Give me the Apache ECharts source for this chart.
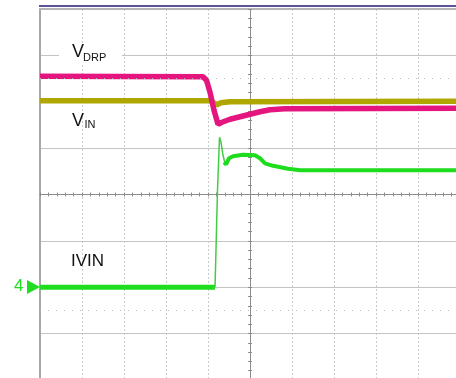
<!DOCTYPE html>
<html>
<head>
<meta charset="utf-8">
<script src="https://cdn.jsdelivr.net/npm/echarts@6/dist/echarts.min.js"></script>
<style>
  html, body { margin: 0; padding: 0; background: #ffffff; overflow: hidden; }
  #chart { width: 456px; height: 378px; }
</style>
</head>
<body>
<div id="chart"></div>
<script>
// Scope capture, values in screen divisions (x: -5..5, y: -4..4)
const vdrpTime  = [-5, -1.12, -1.036, -0.952, -0.857, -0.762, -0.667, -0.476, -0.238, 0, 0.238, 0.476, 0.833, 5];
const vdrpLevel = [2.55, 2.54, 2.464, 2.205, 1.817, 1.515, 1.558, 1.622, 1.676, 1.73, 1.784, 1.827, 1.849, 1.86];

const vinTime  = [-5, -0.976, -0.881, -0.786, -0.69, -0.476, 5];
const vinLevel = [2.022, 2.022, 1.989, 1.935, 1.978, 2.0, 2.011];

// IVIN: flat section, fast edge, settled section
const ivinFlatTime  = [-5, -0.833];
const ivinFlatLevel = [-2.0, -2.0];
const ivinEdgeTime  = [-0.833, -0.81, -0.774, -0.726, -0.69, -0.643, -0.595];
const ivinEdgeLevel = [-2.0, -1.204, 0.091, 1.234, 1.126, 0.846, 0.673];
const ivinTailTime  = [-0.619, -0.571, -0.5, -0.405, -0.167, 0.119, 0.238, 0.357, 0.548, 0.905, 1.19, 5];
const ivinTailLevel = [0.695, 0.652, 0.781, 0.824, 0.857, 0.846, 0.781, 0.673, 0.619, 0.554, 0.522, 0.522];

// Dotted cursor levels
const cursorLevels = [2.5, -2.5];

const pairs = (xs, ys) => xs.map((x, i) => [x, ys[i]]);

const GRID_GRAY = '#c4c4c4';
const TICK_GRAY = '#8c8c8c';

function centerAxis(inside, isX) {
  return {
    type: 'value', min: isX ? -5 : -4, max: isX ? 5 : 4, interval: 1,
    position: isX ? 'bottom' : 'left',
    axisLine: { show: true, onZero: true, onZeroAxisIndex: 0, lineStyle: { color: TICK_GRAY, width: 1 } },
    axisTick: { show: true, inside: inside, length: 2, lineStyle: { color: TICK_GRAY } },
    minorTick: { show: true, splitNumber: 5, length: 2, lineStyle: { color: TICK_GRAY } },
    axisLabel: { show: false },
    splitLine: { show: false }
  };
}

const chart = echarts.init(document.getElementById('chart'), null, { renderer: 'canvas' });

const option = {
  backgroundColor: '#ffffff',
  animation: false,
  // the screen extends a little past the right and bottom of the window
  grid: { left: 40, top: 9, width: 420, height: 371, outerBoundsMode: 'none', containLabel: false },
  xAxis: [
    {
      type: 'value', min: -5, max: 5, interval: 1, position: 'bottom',
      axisLine: { show: false }, axisTick: { show: false }, axisLabel: { show: false },
      splitLine: { show: true, lineStyle: { color: '#cacaca', type: [2, 2], width: 1 } }
    },
    {
      type: 'value', min: -5, max: 5, interval: 1, position: 'top',
      axisLine: { show: true, onZero: false, lineStyle: { color: '#b4b4b4', width: 2 } },
      axisTick: { show: false }, axisLabel: { show: false }, splitLine: { show: false }
    },
    centerAxis(true, true),
    centerAxis(false, true)
  ],
  yAxis: [
    {
      type: 'value', min: -4, max: 4, interval: 1, position: 'left',
      axisLine: { show: true, onZero: false, lineStyle: { color: '#a8a8a8', width: 2 } },
      axisTick: { show: false }, axisLabel: { show: false },
      splitLine: { show: true, lineStyle: { color: GRID_GRAY, width: 1 } }
    },
    centerAxis(true, false),
    centerAxis(false, false)
  ],
  series: [
    {
      name: 'cursors', type: 'line', data: [], silent: true,
      markLine: {
        silent: true, symbol: ['none', 'none'], label: { show: false },
        lineStyle: { color: '#b8b8b8', type: [1, 7], width: 1 },
        data: cursorLevels.map(v => ({ yAxis: v }))
      }
    },
    {
      name: 'VIN', type: 'line', showSymbol: false, data: pairs(vinTime, vinLevel),
      lineStyle: { color: '#b0a600', width: 5.5 }, z: 3
    },
    {
      name: 'VDRP', type: 'line', showSymbol: false, data: pairs(vdrpTime, vdrpLevel),
      lineStyle: { color: '#e5157f', width: 5.5 }, z: 4
    },
    {
      name: 'IVIN', type: 'line', showSymbol: false, data: pairs(ivinFlatTime, ivinFlatLevel),
      lineStyle: { color: '#1edc1e', width: 5 }, z: 5
    },
    {
      name: 'IVIN edge', type: 'line', showSymbol: false, data: pairs(ivinEdgeTime, ivinEdgeLevel),
      lineStyle: { color: '#44cc44', width: 1.5 }, z: 5
    },
    {
      name: 'IVIN tail', type: 'line', showSymbol: false, data: pairs(ivinTailTime, ivinTailLevel),
      lineStyle: { color: '#1edc1e', width: 4 }, z: 5
    }
  ],
  graphic: [
    // white label patch behind V_DRP
    { type: 'rect', shape: { x: 59, y: 44, width: 63, height: 20 }, style: { fill: '#ffffff' }, z: 10 },
    { type: 'line', shape: { x1: 39, y1: 6, x2: 456, y2: 6 }, style: { stroke: '#5c5499', lineWidth: 2 }, z: 10 },
    { type: 'text', x: 72, y: 52, style: { text: 'V', font: '18px "Liberation Sans", Arial, sans-serif', fill: '#111', verticalAlign: 'middle' }, z: 11 },
    { type: 'text', x: 83, y: 57.5, style: { text: 'DRP', font: '11px "Liberation Sans", Arial, sans-serif', fill: '#111', verticalAlign: 'middle' }, z: 11 },
    { type: 'text', x: 72, y: 121, style: { text: 'V', font: '18px "Liberation Sans", Arial, sans-serif', fill: '#111', verticalAlign: 'middle' }, z: 11 },
    { type: 'text', x: 84.5, y: 124.5, style: { text: 'IN', font: '11px "Liberation Sans", Arial, sans-serif', fill: '#111', verticalAlign: 'middle' }, z: 11 },
    { type: 'text', x: 71, y: 261, style: { text: 'IVIN', font: '17px "Liberation Sans", Arial, sans-serif', fill: '#111', verticalAlign: 'middle' }, z: 11 },
    { type: 'text', x: 14, y: 286.5, style: { text: '4', font: '17px "Liberation Sans", Arial, sans-serif', fill: '#22dd22', verticalAlign: 'middle' }, z: 11 },
    { type: 'polygon', shape: { points: [[27, 280], [40, 287], [27, 294]] }, style: { fill: '#22dd22' }, z: 11 }
  ]
};

chart.setOption(option);
</script>
</body>
</html>
